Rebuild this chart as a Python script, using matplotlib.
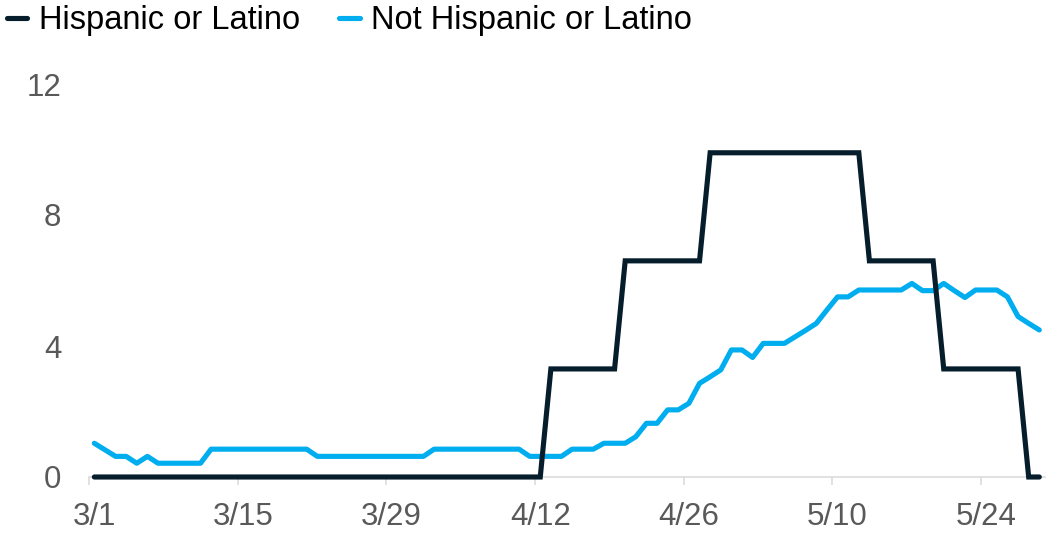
import matplotlib
matplotlib.use("Agg")
import matplotlib.pyplot as plt
from matplotlib.lines import Line2D
from matplotlib.ticker import FixedLocator, NullFormatter
import pandas as pd

plt.rcParams['font.family'] = ['Liberation Sans', 'DejaVu Sans']

# ---- data ----
dates = pd.date_range('2020-03-01', '2020-05-29', freq='D')

hispanic = [
    0, 0, 0, 0, 0, 0, 0, 0, 0, 0,
    0, 0, 0, 0, 0, 0, 0, 0, 0, 0,
    0, 0, 0, 0, 0, 0, 0, 0, 0, 0,
    0, 0, 0, 0, 0, 0, 0, 0, 0, 0,
    0, 0, 0, 3.3, 3.3, 3.3, 3.3, 3.3, 3.3, 3.3,
    6.6, 6.6, 6.6, 6.6, 6.6, 6.6, 6.6, 6.6, 9.9, 9.9,
    9.9, 9.9, 9.9, 9.9, 9.9, 9.9, 9.9, 9.9, 9.9, 9.9,
    9.9, 9.9, 9.9, 6.6, 6.6, 6.6, 6.6, 6.6, 6.6, 6.6,
    3.3, 3.3, 3.3, 3.3, 3.3, 3.3, 3.3, 3.3, 0, 0,
]

not_hispanic = [
    1.03, 0.83, 0.63, 0.63, 0.42, 0.63, 0.42, 0.42, 0.42, 0.42,
    0.42, 0.85, 0.85, 0.85, 0.85, 0.85, 0.85, 0.85, 0.85, 0.85,
    0.85, 0.63, 0.63, 0.63, 0.63, 0.63, 0.63, 0.63, 0.63, 0.63,
    0.63, 0.63, 0.85, 0.85, 0.85, 0.85, 0.85, 0.85, 0.85, 0.85,
    0.85, 0.63, 0.63, 0.63, 0.63, 0.85, 0.85, 0.85, 1.03, 1.03,
    1.03, 1.23, 1.64, 1.64, 2.05, 2.05, 2.25, 2.86, 3.06, 3.27,
    3.88, 3.88, 3.65, 4.08, 4.08, 4.08, 4.28, 4.48, 4.69, 5.10,
    5.50, 5.50, 5.71, 5.71, 5.71, 5.71, 5.71, 5.91, 5.69, 5.69,
    5.91, 5.69, 5.48, 5.71, 5.71, 5.71, 5.50, 4.90, 4.69, 4.49,
]

series_names = ['Hispanic or Latino', 'Not Hispanic or Latino']
series_colors = ['#061d2c', '#00adef']

x_tick_labels = ['3/1', '3/15', '3/29', '4/12', '4/26', '5/10', '5/24']
y_ticks = [0, 4, 8, 12]

# ---- figure ----
W, H = 1050, 533
fig = plt.figure(figsize=(W / 100, H / 100), dpi=100)
ax = fig.add_axes([89 / W, 56 / H, (1044.6 - 89) / W, (477 - 84) / H])

xs = list(range(len(dates)))
lw = 3.7
ax.plot(xs, not_hispanic, color=series_colors[1], lw=lw, solid_capstyle='round',
        solid_joinstyle='round', clip_on=False, zorder=3)
ax.plot(xs, hispanic, color=series_colors[0], lw=lw, solid_capstyle='round',
        solid_joinstyle='miter', clip_on=False, zorder=4)

ax.set_xlim(-0.5, len(dates) - 0.5)
ax.set_ylim(0, 12)

# label positions: every 14th category, labels centered on the category
label_pos = [i for i, d in enumerate(dates) if f"{d.month}/{d.day}" in x_tick_labels]
ax.set_xticks(label_pos)
ax.set_xticklabels([f"{dates[i].month}/{dates[i].day}" for i in label_pos])
ax.xaxis.set_minor_locator(FixedLocator([p - 0.5 for p in label_pos]))
ax.xaxis.set_minor_formatter(NullFormatter())
ax.tick_params(axis='x', which='major', length=0, pad=18, labelsize=22.5, labelcolor='#595959')
ax.tick_params(axis='x', which='minor', length=6, width=1.1, color='#d9d9d9')

ax.set_yticks(y_ticks)
ax.set_yticklabels([str(v) for v in y_ticks])
ax.tick_params(axis='y', length=0, pad=20, labelsize=22.5, labelcolor='#595959')

for s in ['top', 'right', 'left']:
    ax.spines[s].set_visible(False)
ax.spines['bottom'].set_color('#d9d9d9')
ax.spines['bottom'].set_linewidth(1.1)
ax.spines['bottom'].set_zorder(1)

handles = [Line2D([], [], color=c, lw=lw, solid_capstyle='round') for c in series_colors]
fig.legend(handles, series_names, loc='upper left', bbox_to_anchor=(7 / W, 1.0 - 5 / H),
           ncol=2, frameon=False, fontsize=23.5, handlelength=0.62, handletextpad=0.36,
           columnspacing=1.2, borderpad=0, borderaxespad=0)

fig.savefig('out.png', dpi=100)
